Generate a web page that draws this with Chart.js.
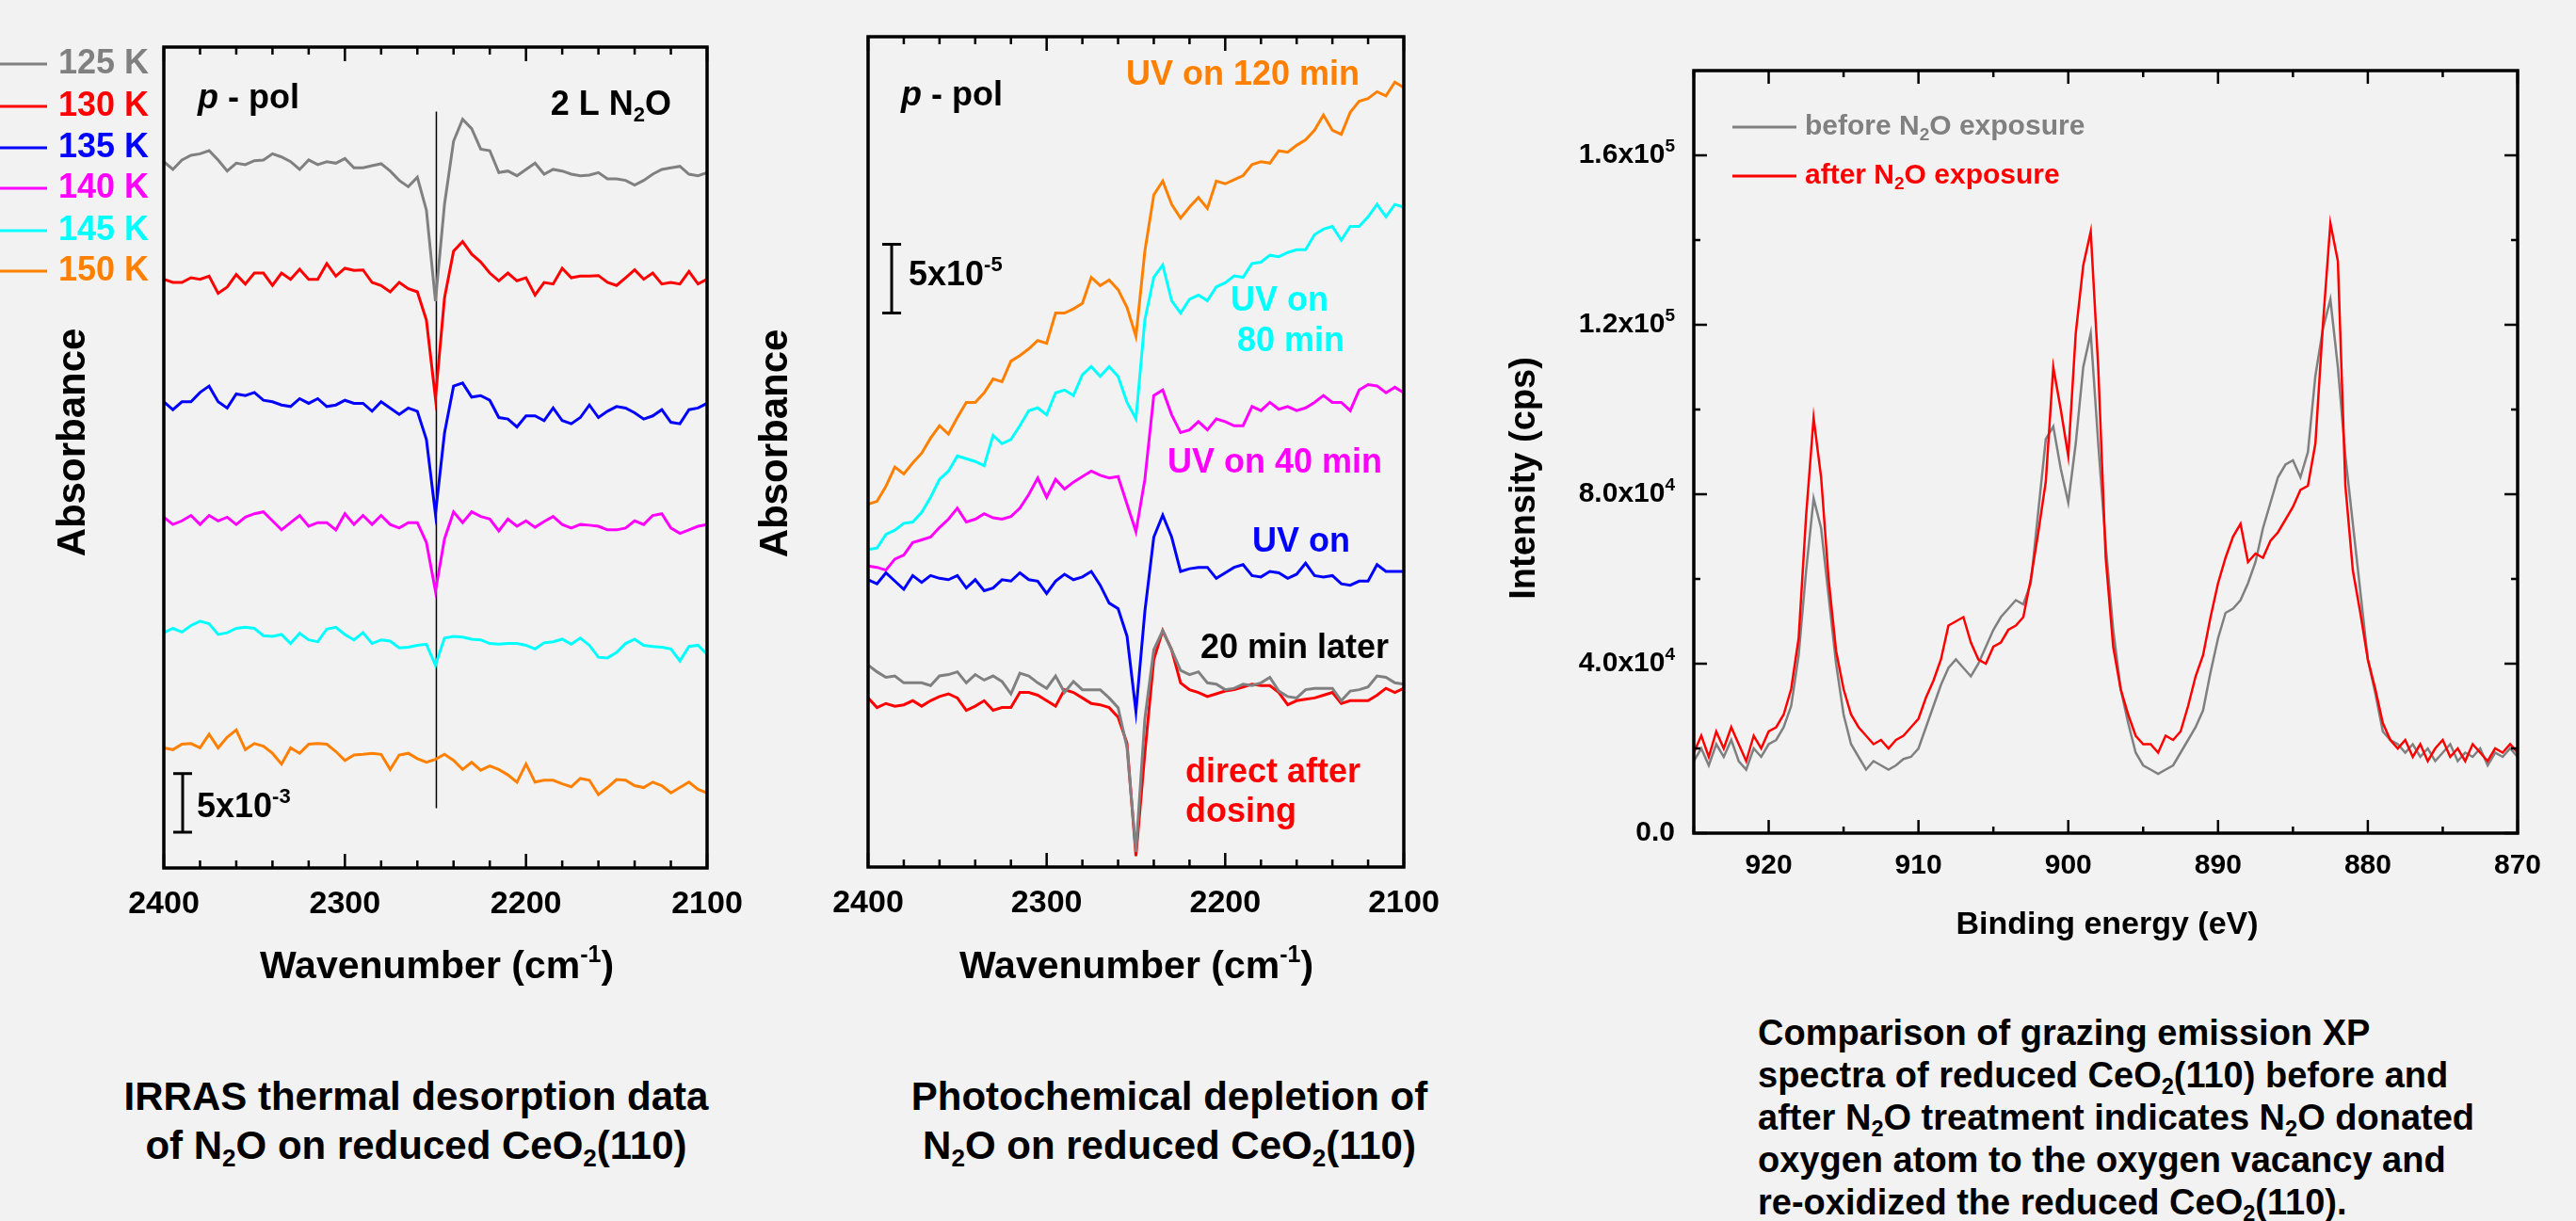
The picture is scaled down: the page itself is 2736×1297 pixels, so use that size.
<!DOCTYPE html>
<html lang="en">
<head>
<meta charset="UTF-8">
<title>N2O on reduced CeO2(110)</title>
<style>
  body { margin: 0; background: #f2f2f2; width: 2736px; height: 1297px; overflow: hidden; position: relative;
         font-family: "Liberation Sans", Arial, Helvetica, sans-serif; }
  canvas { position: absolute; top: 0; }
  .cap { position: absolute; font-weight: bold; color: #000; }
  .cap sub { font-size: 0.62em; vertical-align: -0.3em; line-height: 0; }
</style>
</head>
<body>
<script src="https://cdn.jsdelivr.net/npm/chart.js@4.4.0/dist/chart.umd.min.js"></script>
<canvas id="irras" width="800" height="1060" style="left:0px"></canvas>
<canvas id="photo" width="760" height="1060" style="left:800px"></canvas>
<canvas id="xps" width="1176" height="1060" style="left:1560px"></canvas>

<div class="cap" style="left:92px; top:1139px; width:700px; text-align:center; font-size:42px; line-height:52px;">IRRAS thermal desorption data<br>of N<sub>2</sub>O on reduced CeO<sub>2</sub>(110)</div>
<div class="cap" style="left:892px; top:1139px; width:700px; text-align:center; font-size:42px; line-height:52px;">Photochemical depletion of<br>N<sub>2</sub>O on reduced CeO<sub>2</sub>(110)</div>
<div class="cap" style="left:1867px; top:1075px; white-space:nowrap; font-size:38px; line-height:45px;">Comparison of grazing emission XP<br>spectra of reduced CeO<sub>2</sub>(110) before and<br>after N<sub>2</sub>O treatment indicates N<sub>2</sub>O donated<br>oxygen atom to the oxygen vacancy and<br>re-oxidized the reduced CeO<sub>2</sub>(110).</div>

<script>
// ---------- data ----------
var wavenumbers = [
  2400,2395,2390,2385,2380,2375,2370,2365,2360,2355,
  2350,2345,2340,2335,2330,2325,2320,2315,2310,2305,
  2300,2295,2290,2285,2280,2275,2270,2265,2260,2255,
  2250,2245,2240,2235,2230,2225,2220,2215,2210,2205,
  2200,2195,2190,2185,2180,2175,2170,2165,2160,2155,
  2150,2145,2140,2135,2130,2125,2120,2115,2110,2105,
  2100];

// IRRAS, absorbance in 1e-3 relative to each trace's baseline
var irLabels = ['125 K', '130 K', '135 K', '140 K', '145 K', '150 K'];
var irOffsets = [60.1, 50.2, 39.75, 29.6, 20.06, 10.24];
var ir125 = [0.13,-0.53,0.27,0.67,0.80,1.07,0.27,-0.67,0,-0.13,
  0.21,0.27,0.80,0.53,0.13,-0.53,0.27,-0.13,0.13,0,
  0.40,-0.40,-0.40,-0.21,-0.05,-0.67,-1.47,-2.01,-1.20,-4.0,
  -11.76,-3.5,1.87,3.74,2.94,1.20,1.07,-0.80,-0.67,-1.07,
  -0.53,0,-0.94,-0.53,-0.67,-0.94,-1.07,-1.02,-0.80,-1.34,
  -1.34,-1.47,-1.87,-1.47,-0.94,-0.53,-0.40,-0.27,-0.94,-1.07,
  -0.80];
var ir130 = [0,-0.27,-0.27,0.13,0,0.27,-1.2,-0.67,0.4,-0.4,
  0.53,0.53,-0.53,0.53,0,0.86,0,0,1.34,0.27,
  0.94,0.75,0.8,-0.27,-0.53,-1.07,-0.27,-0.8,-1.07,-3.48,
  -10.16,-1.6,2.41,3.21,2.14,1.47,0.53,-0.13,0.53,-0.13,
  0.13,-1.34,-0.27,-0.4,0.94,0.13,0.27,0.27,0.32,-0.27,
  -0.53,0.13,0.8,0,0.53,-0.4,-0.27,-0.4,0.67,-0.4,
  0];
var ir135 = [0,-0.67,0,0,0.8,1.34,0,-0.53,0.67,0.53,
  0.8,0.13,0,-0.27,-0.4,0.27,-0.13,0.27,-0.4,-0.27,
  0.13,-0.13,-0.13,-0.8,0,-0.53,-1.07,-0.53,-0.8,-3.21,
  -9.55,-2.67,1.34,1.6,0.4,0.53,0.13,-1.34,-1.47,-2.14,
  -1.2,-1.2,-1.6,-0.53,-1.6,-1.87,-1.34,-0.27,-1.34,-0.8,
  -0.4,-0.53,-0.94,-1.47,-1.2,-0.67,-1.74,-1.87,-0.67,-0.53,
  -0.13];
var ir140 = [0.31,-0.31,0,0.46,-0.31,0.46,0,0.31,-0.31,0.31,
  0.61,0.77,0,-0.77,-0.15,0.46,-0.46,-0.15,-0.15,-0.77,
  0.61,-0.31,0.46,-0.31,0.46,-0.31,-0.61,-0.15,-0.15,-1.84,
  -5.99,-1.54,0.77,-0.15,0.77,0.37,0.15,-0.86,0.15,-0.46,
  0,-0.55,-0.06,0.37,-0.31,-0.61,-0.31,-0.37,-0.46,-0.77,
  -0.77,-0.61,0,-0.31,0.46,0.61,-0.61,-1.07,-0.77,-0.46,
  -0.31];
var ir145 = [0,0.37,0.06,0.61,0.98,0.77,-0.15,0,0.37,0.46,
  0.37,-0.25,-0.31,-0.15,-0.92,-0.06,-0.61,-0.77,0.31,0.46,
  -0.15,-0.61,0,-0.92,-0.61,-0.71,-1.29,-1.23,-1.07,-0.98,
  -2.76,-0.46,-0.31,-0.37,-0.55,-0.61,-0.92,-0.98,-0.92,-0.92,
  -1.07,-1.38,-0.86,-0.77,-0.55,-0.98,-0.46,-1.07,-2.09,-2.15,
  -1.69,-0.92,-0.55,-1.07,-1.17,-1.23,-1.38,-2.40,-1.17,-1.07,
  -1.84];
var ir150 = [0,-0.15,0.31,0.37,0,1.17,0,0.92,1.54,-0.15,
  0.37,0.15,-0.46,-1.38,0,-0.46,0.31,0.37,0.31,-0.31,
  -1.07,-0.61,-0.55,-0.46,-0.55,-1.84,-0.61,-0.46,-0.92,-1.23,
  -0.98,-0.55,-1.07,-1.84,-1.23,-1.90,-1.54,-1.84,-2.30,-2.92,
  -1.38,-2.92,-2.76,-2.76,-3.07,-3.32,-2.61,-2.76,-3.99,-3.38,
  -2.70,-2.76,-3.22,-3.38,-2.92,-3.22,-3.84,-3.38,-2.92,-3.53,
  -3.84];
var irGuideX = 2249.5, irGuideY = [5.1, 64.5];
var irBarX = 2389.6, irBarY = [3.05, 8.05];        // 5x10^-3

// photochemical depletion, absorbance in 1e-5 as plotted (stacked)
var pd120 = [26.4,26.6,27.7,29.1,28.6,29.4,30.1,31.2,32.1,31.5,
  32.7,33.8,33.8,34.5,35.5,35.3,36.8,37.2,37.7,38.3,
  38.1,40.3,40.3,40.6,41.0,42.9,42.3,42.7,42.0,40.7,
  38.6,44.8,48.9,49.9,48.2,47.2,48.0,48.7,47.9,49.9,
  49.7,50.0,50.3,51.1,51.3,51.2,52.1,52.0,52.5,52.9,
  53.6,54.7,53.6,53.3,54.9,55.7,55.9,56.4,56.1,57.1,
  56.7];
var pd80 = [23.1,23.2,24.2,24.5,25.0,25.1,25.8,26.9,28.2,28.8,
  29.9,29.7,29.5,29.2,31.4,30.8,31.1,32.1,33.2,33.4,
  32.9,34.5,34.7,34.3,35.8,36.4,35.7,36.4,35.7,33.8,
  32.6,39.8,42.9,43.8,41.2,40.3,41.3,41.6,41.2,42.2,
  42.5,43.0,42.9,43.9,44.0,44.5,44.4,44.7,44.9,44.9,
  46.0,46.4,46.6,45.6,46.6,46.6,47.3,48.2,47.3,48.2,
  48.0];
var pd40 = [21.9,21.8,21.6,22.4,22.7,23.6,23.8,24.0,24.7,25.3,
  26.1,25.1,25.3,25.7,25.4,25.3,25.5,26.1,27.1,28.3,
  26.9,28.2,27.5,28.0,28.4,28.8,28.5,28.3,28.4,26.4,
  24.4,28.2,34.3,34.7,32.9,31.6,31.8,32.4,31.8,32.6,
  32.4,32.1,32.1,33.5,33.2,33.8,33.3,33.5,33.2,33.4,
  33.8,34.3,33.8,33.8,33.2,34.7,35.1,35.0,34.5,34.9,
  34.5];
var pdOn = [20.9,20.6,21.4,20.8,20.2,21.2,20.7,21.2,21.0,20.9,
  21.2,20.3,20.9,20.1,20.3,20.9,20.8,21.4,20.9,20.8,
  19.9,20.8,21.3,20.9,21.1,21.5,20.5,19.2,18.8,16.8,
  11.3,18.6,24.0,25.6,24.0,21.5,21.7,21.8,21.8,21.0,
  21.4,21.8,22.0,21.2,21.1,21.5,21.4,21.0,21.3,22.1,
  21.2,21.1,21.2,20.6,20.5,20.8,20.8,22.0,21.5,21.5,
  21.5];
var pdLater = [14.7,14.2,13.8,13.9,13.4,13.4,13.4,13.2,13.9,14.0,
  14.2,13.4,14.0,13.6,13.9,13.5,12.6,14.1,13.9,13.4,
  13.0,13.9,12.7,13.5,12.9,12.9,12.9,12.3,11.6,8.7,
  1.1,10.8,15.8,17.2,15.8,14.3,14.0,14.2,13.4,13.3,
  12.9,13.0,13.3,13.2,13.4,13.8,12.8,12.4,12.3,12.9,
  13.0,13.0,13.0,12.1,12.8,12.9,13.1,13.9,13.8,13.4,
  13.3];
var pdDirect = [12.3,11.6,11.9,11.7,11.8,12.1,11.7,12.1,12.4,12.6,
  12.3,11.4,11.7,12.1,11.4,11.6,11.6,12.7,12.7,12.5,
  12.1,11.7,12.9,12.7,12.3,11.9,11.8,11.6,10.9,9.0,
  0.8,8.3,15.1,17.2,15.8,13.4,12.9,12.7,12.4,12.6,
  12.8,12.9,13.1,13.3,13.2,13.2,12.7,11.8,12.1,12.2,
  12.3,12.5,12.7,11.9,12.1,12.1,12.1,12.5,13.0,12.7,
  13.0];
var pdBarX = 2386.8, pdBarY = [40.3, 45.3];        // 5x10^-5

// XPS Ce 3d, intensity in 1e4 cps
var bindingEnergy = [
  925,924.5,924,923.5,923,922.5,922,921.5,921,920.5,
  920,919.5,919,918.5,918,917.5,917,916.5,916,915.5,
  915,914.5,914,913.5,913,912.5,912,911.5,911,910.5,
  910,909.5,909,908.5,908,907.5,907,906.5,906,905.5,
  905,904.5,904,903.5,903,902.5,902,901.5,901,900.5,
  900,899.5,899,898.5,898,897.5,897,896.5,896,895.5,
  895,894.5,894,893.5,893,892.5,892,891.5,891,890.5,
  890,889.5,889,888.5,888,887.5,887,886.5,886,885.5,
  885,884.5,884,883.5,883,882.5,882,881.5,881,880.5,
  880,879.5,879,878.5,878,877.5,877,876.5,876,875.5,
  875,874.5,874,873.5,873,872.5,872,871.5,871,870.5,
  870];
var xpsBefore = [
  1.7,2.0,1.6,2.1,1.8,2.2,1.7,1.5,2.0,1.8,
  2.1,2.2,2.5,3.0,4.2,6.2,7.9,7.2,5.6,4.0,
  2.8,2.1,1.8,1.5,1.7,1.6,1.5,1.6,1.75,1.8,
  2.0,2.5,3.0,3.5,3.9,4.1,3.9,3.7,4.0,4.4,
  4.8,5.1,5.3,5.5,5.4,5.9,7.6,9.3,9.6,8.6,
  7.8,9.2,11.0,11.8,9.2,6.8,4.8,3.4,2.6,1.9,
  1.6,1.5,1.4,1.5,1.6,1.9,2.2,2.5,2.9,3.8,
  4.6,5.2,5.3,5.5,5.9,6.4,7.2,7.8,8.4,8.7,
  8.8,8.4,9.0,10.8,11.9,12.6,11.0,8.9,7.3,5.7,
  4.1,3.3,2.4,2.2,2.1,1.9,2.1,1.8,2.0,1.7,
  1.9,2.1,1.7,1.9,1.8,2.0,1.6,1.9,1.8,2.0,
  1.8];
var xpsAfter = [
  1.9,2.3,1.8,2.4,2.0,2.5,2.1,1.7,2.3,2.0,
  2.4,2.5,2.8,3.4,4.6,7.5,9.8,8.4,6.0,4.3,
  3.4,2.8,2.5,2.3,2.1,2.2,2.0,2.2,2.3,2.5,
  2.7,3.2,3.6,4.1,4.9,5.0,5.1,4.5,4.1,4.0,
  4.4,4.5,4.8,4.9,5.1,6.0,7.1,8.3,11.0,10.0,
  8.9,11.8,13.4,14.2,11.0,6.5,4.4,3.4,2.8,2.3,
  2.1,2.1,1.9,2.3,2.2,2.4,3.0,3.7,4.2,5.1,
  5.9,6.5,7.0,7.3,6.4,6.6,6.5,6.9,7.1,7.4,
  7.7,8.1,8.2,9.2,12.0,14.4,13.5,8.2,6.2,5.2,
  4.1,3.4,2.6,2.2,2.0,2.2,1.8,2.1,1.7,2.0,
  2.2,1.8,2.0,1.7,2.1,1.9,1.7,2.0,1.9,2.1,
  1.9];
var xpsLabels = ['before N_{2}O exposure', 'after N_{2}O exposure'];

// ticks
var wnTicksMajor = [2400, 2300, 2200, 2100];
var wnTicksMinor = [2380,2360,2340,2320,2280,2260,2240,2220,2180,2160,2140,2120];
var beTicksMajor = [920, 910, 900, 890, 880, 870];
var beTicksMinor = [925, 915, 905, 895, 885, 875];
var intTicksMajor = [0, 40000, 80000, 120000, 160000];
var intTicksMinor = [20000, 60000, 100000, 140000];
var intTickNames = ['0.0', '4.0x10^{4}', '8.0x10^{4}', '1.2x10^{5}', '1.6x10^{5}'];

// ---------- helpers ----------
var FONT = '"Liberation Sans", Arial, Helvetica, sans-serif';
var C = { gray: '#808080', red: '#ff0000', blue: '#0000ff', magenta: '#ff00ff', cyan: '#00ffff', orange: '#ff8000' };

// text with _{sub}, ^{sup}, ~{italic}
function richText(ctx, str, x, y, size, color, align) {
  var parts = [], re = /([_^~])\{([^}]*)\}/g, last = 0, m;
  while ((m = re.exec(str))) {
    if (m.index > last) parts.push({ t: str.slice(last, m.index), k: '' });
    parts.push({ t: m[2], k: m[1] });
    last = re.lastIndex;
  }
  if (last < str.length) parts.push({ t: str.slice(last), k: '' });
  function font(k) {
    var s = (k === '_' || k === '^') ? Math.round(size * 0.62) : size;
    return (k === '~' ? 'italic ' : '') + 'bold ' + s + 'px ' + FONT;
  }
  var w = 0;
  parts.forEach(function (p) { ctx.font = font(p.k); p.w = ctx.measureText(p.t).width; w += p.w; });
  var cx = align === 'center' ? x - w / 2 : (align === 'right' ? x - w : x);
  ctx.save();
  ctx.fillStyle = color; ctx.textAlign = 'left'; ctx.textBaseline = 'middle';
  parts.forEach(function (p) {
    ctx.font = font(p.k);
    var dy = p.k === '_' ? size * 0.3 : (p.k === '^' ? -size * 0.32 : 0);
    ctx.fillText(p.t, cx, y + dy);
    cx += p.w;
  });
  ctx.restore();
}

function rotatedText(ctx, str, x, y, size) {
  ctx.save(); ctx.translate(x, y); ctx.rotate(-Math.PI / 2);
  richText(ctx, str, 0, 0, size, '#000', 'center');
  ctx.restore();
}

function series(xs, ys, offset, scale) {
  return xs.map(function (x, i) { return { x: x, y: (ys[i] + (offset || 0)) * (scale || 1) }; });
}

function trace(data, color, width) {
  return { data: data, borderColor: color, borderWidth: width || 3, pointRadius: 0, tension: 0, fill: false };
}

function scaleBar(x, ys) {
  return { data: [{ x: x, y: ys[0] }, { x: x, y: ys[1] }], borderColor: '#000', borderWidth: 3,
           pointStyle: 'line', pointRadius: 10, pointBorderWidth: 3, pointBorderColor: '#000' };
}

// frame and inward ticks on all four sides
var frameTicks = {
  id: 'frameTicks',
  afterDatasetsDraw: function (chart, args, o) {
    var ctx = chart.ctx, a = chart.chartArea, xs = chart.scales.x, ys = chart.scales.y;
    ctx.save();
    ctx.strokeStyle = '#000'; ctx.lineWidth = 2.5; ctx.lineCap = 'butt';
    ctx.beginPath();
    function xt(v, len) { var p = xs.getPixelForValue(v); ctx.moveTo(p, a.bottom); ctx.lineTo(p, a.bottom - len); ctx.moveTo(p, a.top); ctx.lineTo(p, a.top + len); }
    function yt(v, len) { var p = ys.getPixelForValue(v); ctx.moveTo(a.left, p); ctx.lineTo(a.left + len, p); ctx.moveTo(a.right, p); ctx.lineTo(a.right - len, p); }
    (o.xMajor || []).forEach(function (v) { xt(v, o.major); });
    (o.xMinor || []).forEach(function (v) { xt(v, o.minor); });
    (o.yMajor || []).forEach(function (v) { yt(v, o.major); });
    (o.yMinor || []).forEach(function (v) { yt(v, o.minor); });
    ctx.stroke();
    ctx.lineWidth = 3.5;
    ctx.strokeRect(a.left, a.top, a.right - a.left, a.bottom - a.top);
    ctx.restore();
  }
};

function wnAxis(pad) {
  return {
    type: 'linear', min: 2100, max: 2400, reverse: true,
    grid: { display: false }, border: { display: false },
    ticks: { stepSize: 100, padding: pad, color: '#000', autoSkip: false, maxRotation: 0,
             font: { size: 34, weight: 'bold' }, callback: function (v) { return String(v); } },
    afterFit: function (s) { s.height = 60; }
  };
}

// ---------- charts ----------
window.onload = function () {
  Chart.defaults.font.family = FONT;
  Chart.defaults.color = '#000';

  // IRRAS
  var irColors = [C.gray, C.red, C.blue, C.magenta, C.cyan, C.orange];
  var irSets = [ir125, ir130, ir135, ir140, ir145, ir150].map(function (s, i) {
    return trace(series(wavenumbers, s, irOffsets[i]), irColors[i], 3);
  });
  irSets.push({ data: [{ x: irGuideX, y: irGuideY[0] }, { x: irGuideX, y: irGuideY[1] }], borderColor: '#000', borderWidth: 1.5, pointRadius: 0 });
  irSets.push(scaleBar(irBarX, irBarY));

  new Chart(document.getElementById('irras'), {
    type: 'line',
    data: { datasets: irSets },
    options: {
      responsive: false, animation: false, devicePixelRatio: 1, events: [],
      layout: { padding: { left: 174, right: 49, top: 50, bottom: 78 } },
      scales: { x: wnAxis(10), y: { type: 'linear', display: false, min: 0, max: 70 } },
      plugins: { legend: { display: false }, tooltip: { enabled: false },
                 frameTicks: { xMajor: wnTicksMajor, xMinor: wnTicksMinor, major: 15, minor: 8 } }
    },
    plugins: [frameTicks, {
      id: 'irText',
      afterDraw: function (chart) {
        var ctx = chart.ctx;
        var rows = [68, 113, 157, 200, 245, 288];
        irLabels.forEach(function (t, i) {
          ctx.save(); ctx.strokeStyle = irColors[i]; ctx.lineWidth = 3;
          ctx.beginPath(); ctx.moveTo(0, rows[i]); ctx.lineTo(50, rows[i]); ctx.stroke(); ctx.restore();
          richText(ctx, t, 62, rows[i], 36, irColors[i], 'left');
        });
        richText(ctx, '~{p} - pol', 210, 105, 36, '#000', 'left');
        richText(ctx, '2 L N_{2}O', 713, 112, 36, '#000', 'right');
        richText(ctx, '5x10^{-3}', 209, 858, 36, '#000', 'left');
        rotatedText(ctx, 'Absorbance', 78, 470, 42);
        richText(ctx, 'Wavenumber (cm^{-1})', 464, 1028, 41, '#000', 'center');
      }
    }]
  });

  // photochemical depletion
  var pdColors = [C.orange, C.cyan, C.magenta, C.blue, C.gray, C.red];
  var pdSets = [pd120, pd80, pd40, pdOn, pdLater, pdDirect].map(function (s, i) {
    return trace(series(wavenumbers, s), pdColors[i], 3);
  });
  pdSets.push(scaleBar(pdBarX, pdBarY));

  new Chart(document.getElementById('photo'), {
    type: 'line',
    data: { datasets: pdSets },
    options: {
      responsive: false, animation: false, devicePixelRatio: 1, events: [],
      layout: { padding: { left: 122, right: 69, top: 39, bottom: 79 } },
      scales: { x: wnAxis(10), y: { type: 'linear', display: false, min: 0, max: 60.4 } },
      plugins: { legend: { display: false }, tooltip: { enabled: false },
                 frameTicks: { xMajor: wnTicksMajor, xMinor: wnTicksMinor, major: 15, minor: 8 } }
    },
    plugins: [frameTicks, {
      id: 'pdText',
      afterDraw: function (chart) {
        var ctx = chart.ctx;
        richText(ctx, '~{p} - pol', 157, 102, 36, '#000', 'left');
        richText(ctx, 'UV on 120 min', 396, 80, 36, C.orange, 'left');
        richText(ctx, 'UV on', 507, 320, 36, C.cyan, 'left');
        richText(ctx, '80 min', 514, 363, 36, C.cyan, 'left');
        richText(ctx, 'UV on 40 min', 440, 492, 36, C.magenta, 'left');
        richText(ctx, 'UV on', 530, 576, 36, C.blue, 'left');
        richText(ctx, '20 min later', 475, 689, 36, '#000', 'left');
        richText(ctx, 'direct after', 459, 821, 36, C.red, 'left');
        richText(ctx, 'dosing', 459, 863, 36, C.red, 'left');
        richText(ctx, '5x10^{-5}', 165, 293, 36, '#000', 'left');
        rotatedText(ctx, 'Absorbance', 24, 471, 42);
        richText(ctx, 'Wavenumber (cm^{-1})', 407, 1028, 41, '#000', 'center');
      }
    }]
  });

  // XPS
  new Chart(document.getElementById('xps'), {
    type: 'line',
    data: { datasets: [
      trace(series(bindingEnergy, xpsAfter, 0, 1e4), C.red, 2.5),
      trace(series(bindingEnergy, xpsBefore, 0, 1e4), C.gray, 2.5)
    ] },
    options: {
      responsive: false, animation: false, devicePixelRatio: 1, events: [],
      layout: { padding: { left: 89, right: 62, top: 75, bottom: 115 } },
      scales: {
        x: { type: 'linear', min: 870, max: 925, reverse: true,
             grid: { display: false }, border: { display: false },
             ticks: { stepSize: 10, includeBounds: false, padding: 9, color: '#000', autoSkip: false, maxRotation: 0,
                      font: { size: 30, weight: 'bold' },
                      callback: function (v) { return v % 10 === 0 ? String(v) : ''; } },
             afterFit: function (s) { s.height = 60; } },
        y: { type: 'linear', min: 0, max: 180000,
             grid: { display: false }, border: { display: false },
             ticks: { display: false },
             afterFit: function (s) { s.width = 150; } }
      },
      plugins: { legend: { display: false }, tooltip: { enabled: false },
                 frameTicks: { xMajor: beTicksMajor, xMinor: beTicksMinor, yMajor: intTicksMajor, yMinor: intTicksMinor, major: 14, minor: 7 } }
    },
    plugins: [frameTicks, {
      id: 'xpsText',
      afterDraw: function (chart) {
        var ctx = chart.ctx, a = chart.chartArea, ys = chart.scales.y;
        intTicksMajor.forEach(function (v, i) {
          richText(ctx, intTickNames[i], a.left - 20, ys.getPixelForValue(v), 30, '#000', 'right');
        });
        var rows = [135, 187], cols = [C.gray, C.red];
        xpsLabels.forEach(function (t, i) {
          ctx.save(); ctx.strokeStyle = cols[i]; ctx.lineWidth = 3;
          ctx.beginPath(); ctx.moveTo(280, rows[i]); ctx.lineTo(348, rows[i]); ctx.stroke(); ctx.restore();
          richText(ctx, t, 357, rows[i], 30, cols[i], 'left');
        });
        rotatedText(ctx, 'Intensity (cps)', 60, 508, 38);
        richText(ctx, 'Binding energy (eV)', 678, 983, 34, '#000', 'center');
      }
    }]
  });
};
</script>
</body>
</html>
